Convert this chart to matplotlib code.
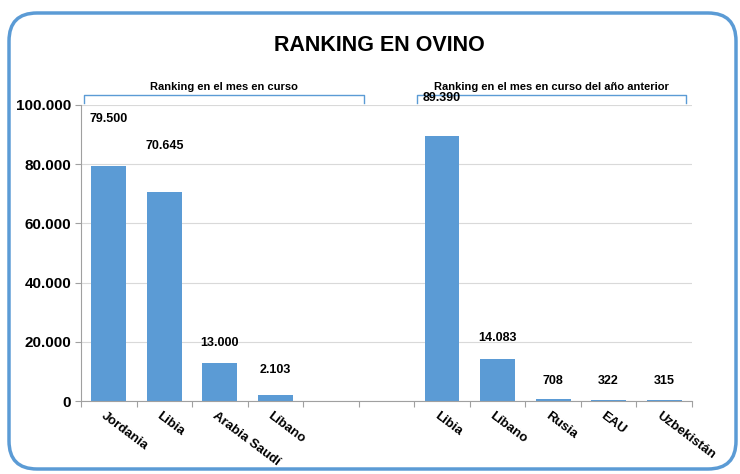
import matplotlib.pyplot as plt
import matplotlib.transforms as mtransforms
from matplotlib.patches import FancyBboxPatch

# data
categories = ["Jordania", "Libia", "Arabia Saudí", "Líbano", "", "",
              "Libia", "Líbano", "Rusia", "EAU", "Uzbekistán"]
values = [79500, 70645, 13000, 2103, 0, 0, 89390, 14083, 708, 322, 315]
labels = ["79.500", "70.645", "13.000", "2.103", "", "",
          "89.390", "14.083", "708", "322", "315"]
group_names = ["Ranking en el mes en curso",
               "Ranking en el mes en curso del año anterior"]

blue = "#5B9BD5"
plt.rcParams["font.family"] = ["Liberation Sans", "DejaVu Sans"]

fig = plt.figure(figsize=(7.4, 4.74), dpi=100)
ax = fig.add_axes([0.1095, 0.154, 0.8255, 0.6245])

x = list(range(len(categories)))
ax.bar(x, values, width=0.63, color=blue, zorder=2)

ax.set_xlim(-0.5, len(categories) - 0.5)
ax.set_ylim(0, 100000)
ax.set_yticks(range(0, 100001, 20000))
ax.set_yticklabels(["0", "20.000", "40.000", "60.000", "80.000", "100.000"],
                   fontsize=11, fontweight="bold")
ax.yaxis.grid(True, color="#d9d9d9", linewidth=0.8, zorder=0)
for s in ["top", "right"]:
    ax.spines[s].set_visible(False)
ax.spines["left"].set_color("#a0a0a0")
ax.spines["bottom"].set_color("#a0a0a0")
ax.tick_params(axis="y", length=4, color="#a0a0a0", pad=3)

# ticks between categories on x axis
ax.set_xticks([i - 0.5 for i in range(len(categories) + 1)])
ax.set_xticklabels([])
ax.tick_params(axis="x", length=4, color="#a0a0a0")
for i, c in enumerate(categories):
    ax.annotate(c, (i, 0), xytext=(-2, -6), textcoords="offset points",
                rotation=-37, rotation_mode="anchor", ha="left", va="top",
                fontsize=9.5, fontweight="bold", annotation_clip=False)

# value labels (manual offsets like the original)
offsets = [47, 46, 20, 25, 0, 0, 38, 21, 18, 19, 19]
for i, (v, lab) in enumerate(zip(values, labels)):
    if lab:
        ax.annotate(lab, (i, v), xytext=(0, offsets[i] * 0.72),
                    textcoords="offset points", ha="center", va="center",
                    fontsize=9, fontweight="bold")

# group brackets
trans = mtransforms.blended_transform_factory(ax.transData, ax.transAxes)
for (x0, x1), name in zip([(-0.45, 4.6), (5.55, 10.4)], group_names):
    ax.plot([x0, x0, x1, x1], [1.008, 1.034, 1.034, 1.008], color=blue,
            linewidth=1, transform=trans, clip_on=False)
    ax.text((x0 + x1) / 2, 1.06, name, transform=trans, ha="center",
            va="center", fontsize=8, fontweight="bold")

fig.text(0.513, 0.905, "RANKING EN OVINO", ha="center", va="center",
         fontsize=15.5, fontweight="bold")

# rounded border (pixel coordinates)
border = FancyBboxPatch((9, 5), 727, 456,
                        boxstyle="round,pad=0,rounding_size=28",
                        transform=mtransforms.IdentityTransform(), fill=False,
                        edgecolor=blue, linewidth=2.5)
fig.add_artist(border)

fig.savefig("out.png", dpi=100)
